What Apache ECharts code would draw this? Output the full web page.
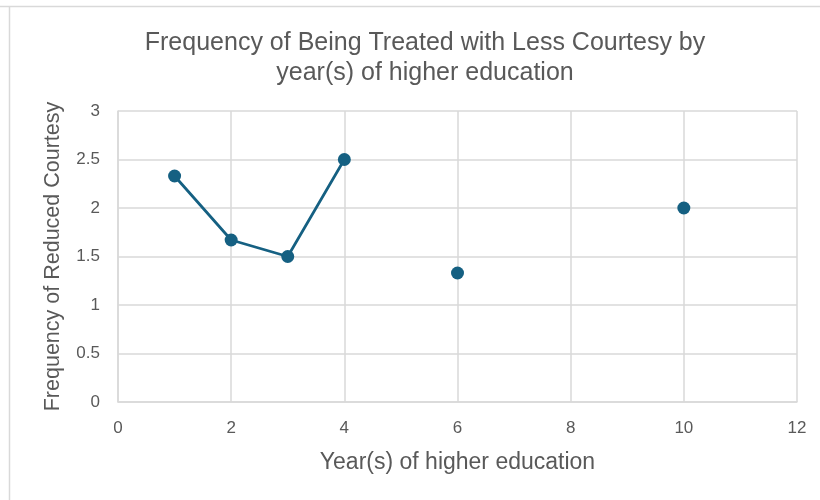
<!DOCTYPE html>
<html>
<head>
<meta charset="utf-8">
<script src="https://cdn.jsdelivr.net/npm/echarts@6/dist/echarts.min.js"></script>
<style>
  html, body { margin: 0; padding: 0; background: #fff; }
  #chart { width: 820px; height: 500px; }
</style>
</head>
<body>
<div id="chart"></div>
<script>
// Years of higher education (missing years are left empty so the line breaks there)
const years = [1, 2, 3, 4, 5, 6, 7, 8, 9, 10];
const courtesy = [2.33, 1.67, 1.5, 2.5, null, 1.33, null, null, null, 2];

const titleText = 'Frequency of Being Treated with Less Courtesy by\nyear(s) of higher education';
const xAxisName = 'Year(s) of higher education';
const yAxisName = 'Frequency of Reduced Courtesy';

const seriesColor = '#156082';
const gridColor = '#d9d9d9';
const textColor = '#595959';
const font = 'Liberation Sans, Arial, sans-serif';

const points = years.map((x, i) => [x, courtesy[i] === null ? '-' : courtesy[i]]);

const chart = echarts.init(document.getElementById('chart'), null, { renderer: 'canvas' });
chart.setOption({
  backgroundColor: '#fff',
  animation: false,
  title: {
    text: titleText,
    left: 420,
    top: 23,
    textAlign: 'center',
    textStyle: {
      color: textColor,
      fontFamily: font,
      fontSize: 25,
      fontWeight: 'normal',
      lineHeight: 30
    }
  },
  graphic: [
    { type: 'line', shape: { x1: 0, y1: 6.5, x2: 820, y2: 6.5 }, style: { stroke: gridColor, lineWidth: 1.5 }, silent: true },
    { type: 'line', shape: { x1: 9.5, y1: 6, x2: 9.5, y2: 500 }, style: { stroke: gridColor, lineWidth: 1.5 }, silent: true }
  ],
  grid: { left: 118, right: 23, top: 111, bottom: 98 },
  xAxis: {
    type: 'value',
    min: 0,
    max: 12,
    interval: 2,
    name: xAxisName,
    nameLocation: 'middle',
    nameGap: 49,
    nameTextStyle: { color: textColor, fontFamily: font, fontSize: 23 },
    axisLine: { show: true, lineStyle: { color: gridColor, width: 1.5 } },
    axisTick: { show: false },
    axisLabel: { color: textColor, fontFamily: font, fontSize: 17, margin: 18 },
    splitLine: { show: true, lineStyle: { color: gridColor, width: 1.5 } }
  },
  yAxis: {
    type: 'value',
    min: 0,
    max: 3,
    interval: 0.5,
    name: yAxisName,
    nameLocation: 'middle',
    nameGap: 54,
    nameTextStyle: { color: textColor, fontFamily: font, fontSize: 21.5 },
    axisLine: { show: true, lineStyle: { color: gridColor, width: 1.5 } },
    axisTick: { show: false },
    axisLabel: { color: textColor, fontFamily: font, fontSize: 17, margin: 18 },
    splitLine: { show: true, lineStyle: { color: gridColor, width: 1.5 } }
  },
  series: [{
    type: 'line',
    data: points,
    connectNulls: false,
    symbol: 'circle',
    symbolSize: 13,
    itemStyle: { color: seriesColor },
    lineStyle: { color: seriesColor, width: 2.75 }
  }]
});
</script>
</body>
</html>
